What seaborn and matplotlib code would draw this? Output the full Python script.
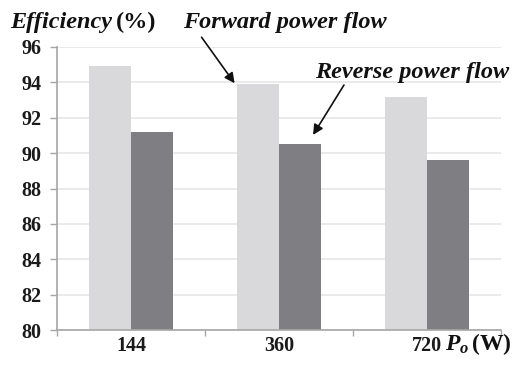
import matplotlib
matplotlib.use("Agg")
import matplotlib.pyplot as plt
import seaborn as sns
import pandas as pd

# Output power levels and measured efficiencies
power_levels = ["144", "360", "720"]
forward_eff = [94.9, 93.9, 93.2]
reverse_eff = [91.2, 90.5, 89.6]
y_ticks = [80, 82, 84, 86, 88, 90, 92, 94, 96]

df = pd.DataFrame({
    "power": power_levels * 2,
    "eff": forward_eff + reverse_eff,
    "dir": ["Forward"] * 3 + ["Reverse"] * 3,
})

sns.set_theme(style="white")
plt.rcParams["font.family"] = ["Liberation Serif", "DejaVu Serif"]
plt.rcParams["mathtext.fontset"] = "custom"
plt.rcParams["mathtext.it"] = "Liberation Serif:italic:bold"
plt.rcParams["mathtext.bf"] = "Liberation Serif:bold"
plt.rcParams["mathtext.rm"] = "Liberation Serif:bold"

W, H = 512, 369
fig = plt.figure(figsize=(W / 100, H / 100), dpi=100)
ax = fig.add_axes([57 / W, 1 - 330 / H, (501 - 57) / W, (330 - 47) / H])

sns.barplot(data=df, x="power", y="eff", hue="dir", order=power_levels,
            palette=["#d9d9db", "#7f7f83"], width=0.568, gap=0,
            saturation=1, ax=ax, legend=False)
for p in ax.patches:
    p.set_edgecolor("none")

ax.set_ylim(80, 96)
ax.set_xlim(-0.5, 2.5)
ax.set_yticks(y_ticks)
ax.set_yticklabels([str(v) for v in y_ticks], fontsize=14.5, fontweight="bold",
                   color="#1a1a1a")
ax.yaxis.grid(True, color="#e6e6e6", linewidth=1.2)
ax.set_axisbelow(True)
ax.set_xlabel("")
ax.set_ylabel("")

# category labels at centres, tick marks between categories
ax.set_xticks(range(3))
ax.set_xticklabels(power_levels, fontsize=14.5, fontweight="bold", color="#1a1a1a")
ax.set_xticks([-0.5, 0.5, 1.5, 2.5], minor=True)
ax.tick_params(axis="x", which="major", length=0, pad=4)
ax.tick_params(axis="x", which="minor", length=4, width=1, color="#a6a6a6",
               direction="out", bottom=True)
ax.tick_params(axis="y", which="major", length=5, width=1, color="#a6a6a6",
               direction="out", left=True, pad=6)

for side in ["top", "right"]:
    ax.spines[side].set_visible(False)
for side in ["left", "bottom"]:
    ax.spines[side].set_color("#a6a6a6")
    ax.spines[side].set_linewidth(1.2)

# axis titles
t1 = fig.text(10 / W, 1 - 28 / H, "Efficiency", fontsize=17.5, fontweight="bold",
              fontstyle="italic", va="baseline", ha="left", color="#111111")
fig.canvas.draw()
bb = t1.get_window_extent()
fig.text((bb.x1 + 4) / W, 1 - 28 / H, "(%)", fontsize=17.5, fontweight="bold",
         va="baseline", ha="left", color="#111111")
fig.text(445 / W, 1 - 350 / H, r"$P_o\,\mathbf{(W)}$", fontsize=17,
         va="baseline", ha="left", color="#111111")

# labels with arrows
arrow = dict(arrowstyle="-|>", color="#111111", lw=1.2, mutation_scale=15,
             shrinkA=0, shrinkB=0)
fig.text(183 / W, 1 - 28 / H, "Forward power flow", fontsize=17.5,
         fontweight="bold", fontstyle="italic", va="baseline", ha="left",
         color="#111111")
ax.annotate("", xy=(0.70, 93.95), xytext=(0.477, 96.55), arrowprops=arrow,
            annotation_clip=False)
fig.text(315 / W, 1 - 78 / H, "Reverse power flow", fontsize=17.5,
         fontweight="bold", fontstyle="italic", va="baseline", ha="left",
         color="#111111")
ax.annotate("", xy=(1.23, 91.03), xytext=(1.439, 93.85), arrowprops=arrow,
            annotation_clip=False)

fig.savefig("out.png", dpi=100)
